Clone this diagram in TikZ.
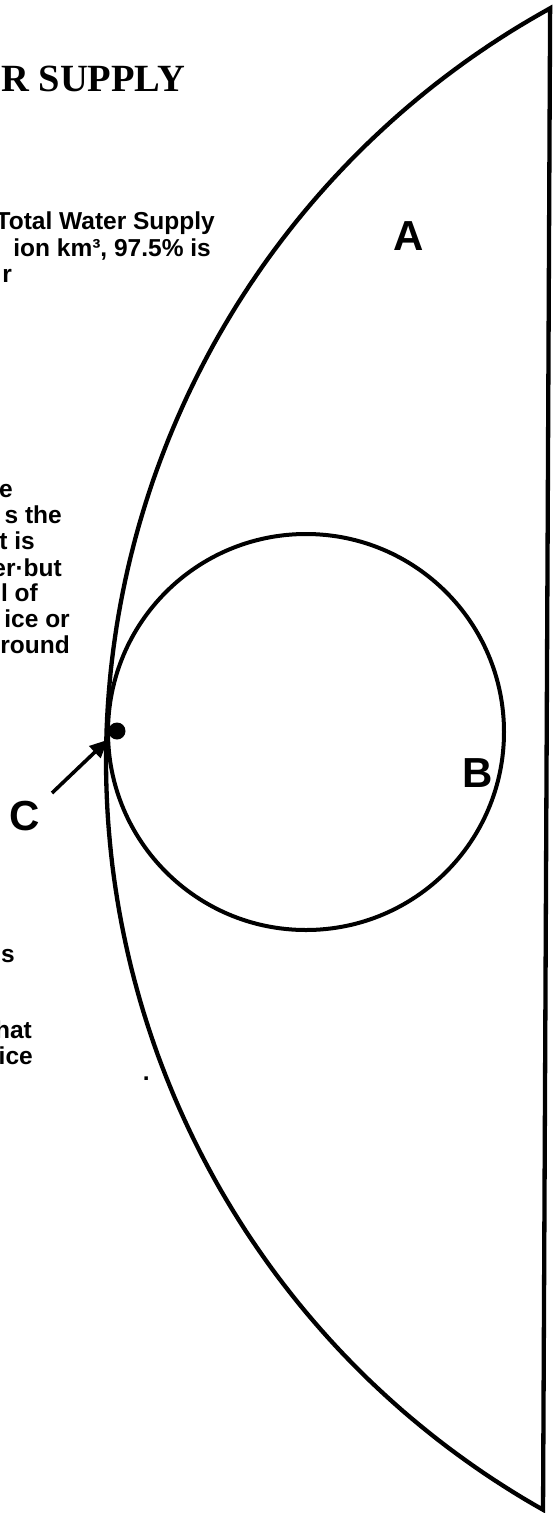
\documentclass[tikz,border=0pt]{standalone}
\usepackage{fontspec}
\setmainfont{Liberation Serif}
\newfontfamily\bodyfont{Liberation Sans}
\usetikzlibrary{arrows.meta}
\begin{document}
\begin{tikzpicture}[x=1pt,y=-1pt,
  outline/.style={line width=4.3pt, line join=miter},
  ring/.style={circle, draw, line width=4pt, inner sep=0pt, minimum size=396pt},
  frag/.style={anchor=base east, inner sep=0pt, font=\bodyfont\bfseries\fontsize{24.5}{26}\selectfont},
  letter/.style={inner sep=0pt, font=\bodyfont\bfseries\fontsize{42}{42}\selectfont},
  titlestyle/.style={anchor=base west, inner sep=0pt, font=\bfseries\fontsize{38.5}{40}\selectfont},
  pointer/.style={line width=3.6pt, -{Triangle[length=18pt,width=16pt]}, shorten >=4pt},
]
\useasboundingbox (0,0) rectangle (559,1513);
\fill[white] (0,0) rectangle (559,1513);
\clip (0,0) rectangle (559,1513);
% big segment shape
\draw[outline] plot[domain=241.08:119.46, samples=160] ({966+860*cos(\x)},{761+860*sin(\x)}) -- cycle;
% circle B
\node[ring] (ringB) at (306,732) {};
% dot and arrow
\node[circle, fill, inner sep=0pt, minimum size=17pt] (dot) at (117,731) {};
\coordinate (tail) at (52,793);
\draw[pointer] (tail) -- (dot);
% labels
\node[letter] (labA) at (409,236) {A};
\node[letter] (labB) at (478,773) {B};
\node[letter] (labC) at (25,816) {C};
% title
\node[titlestyle] (title) at (1,91) {R SUPPLY};
% text fragments
\node[frag] (t1) at (215,229) {Total Water Supply};
\node[frag] (t2) at (211,256) {ion km³, 97.5\% is};
\node[frag] (t3) at (12,282) {r};
\node[frag] (p1) at (13,497) {e};
\node[frag] (p2) at (62,523) {s the};
\node[frag] (p3) at (35,549) {t is};
\node[frag] (p4) at (62,576) {er·but};
\node[frag] (p5) at (38,601) {l of};
\node[frag] (p6) at (70,627) {ice or};
\node[frag] (p7) at (70,653) {round};
\node[frag] (q1) at (15,962) {s};
\node[frag] (q2) at (32,1038) {hat};
\node[frag] (q3) at (33,1064) {ice};
\node[frag] (q4) at (150,1080) {.};
\end{tikzpicture}
\end{document}
